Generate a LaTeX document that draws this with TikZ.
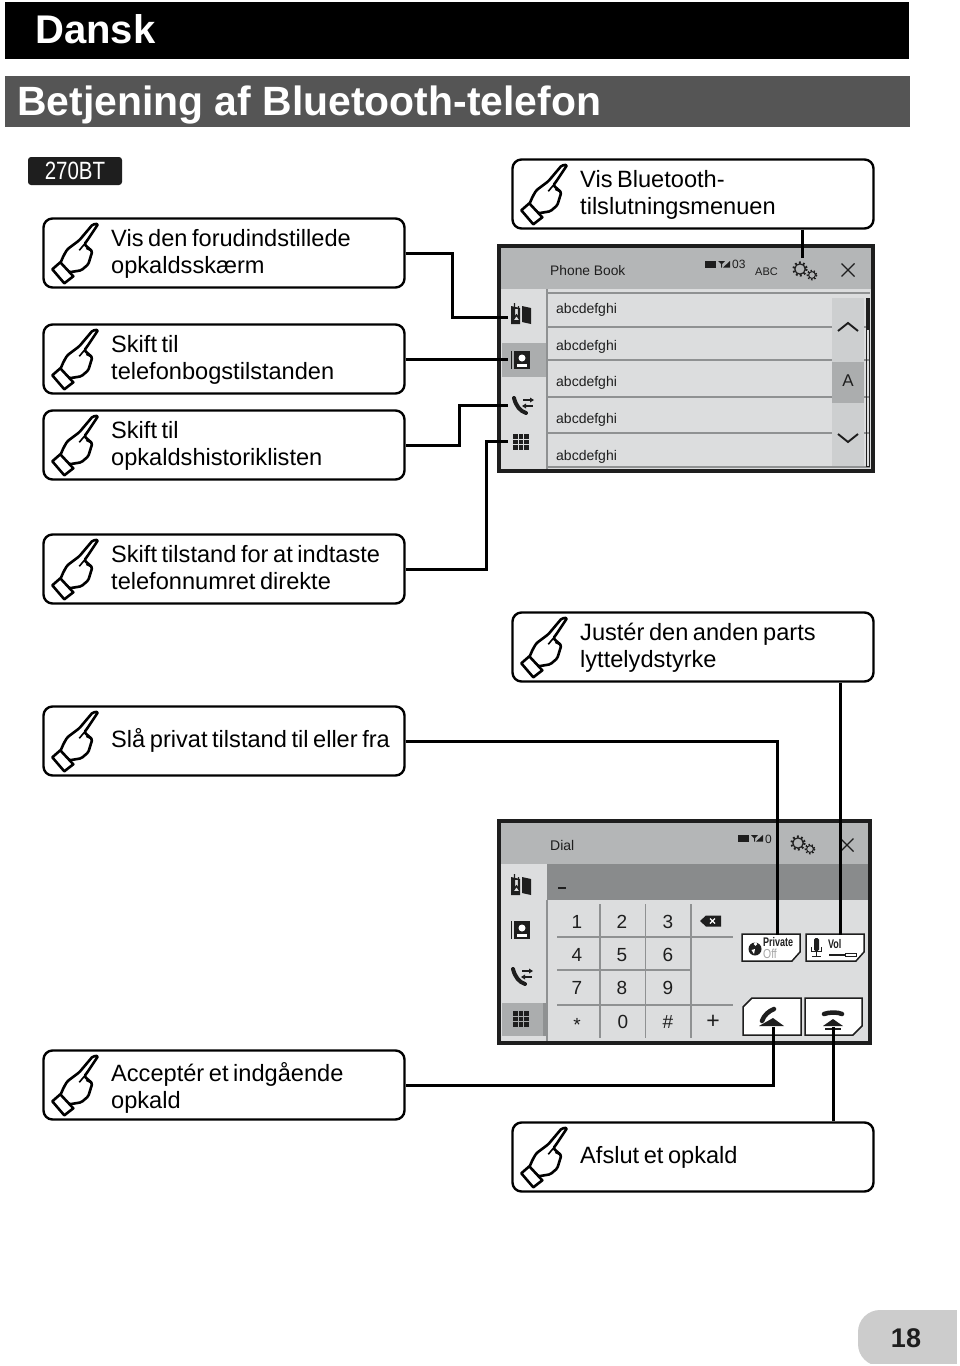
\documentclass[tikz,border=0pt]{standalone}
\usepackage{fontspec}
\setmainfont{Liberation Sans}
\newfontfamily\labelfont[WordSpace=0.7]{Liberation Sans}
\definecolor{hdrgray}{HTML}{B4B6B7}
\definecolor{panelgray}{HTML}{DCDDDE}
\definecolor{selgray}{HTML}{ABADAE}
\definecolor{linegray}{HTML}{8F9192}
\definecolor{scrollgray}{HTML}{CDCFD0}
\definecolor{bandgray}{HTML}{898B8C}
\definecolor{titlegray}{HTML}{555555}
\definecolor{inkdark}{HTML}{1E1E1E}
\tikzset{
  x=1pt,y=-1pt,
  cbox/.style={draw=black,line width=2.4pt,rounded corners=9pt,minimum width=361pt,minimum height=69pt,fill=white,inner sep=0pt},
  clabel/.style={anchor=north west,align=left,inner sep=0pt,font=\labelfont\fontsize{23.6}{27}\selectfont,text=black},
  wire/.style={draw=black,line width=3pt,line cap=butt,line join=miter},
  screen/.style={draw=inkdark,line width=3.5pt,fill=panelgray},
  scrtxt/.style={inner sep=0pt,text=inkdark},
  rowtxt/.style={inner sep=0pt,anchor=base west,text=inkdark,font=\fontsize{14}{14}\selectfont},
  keytxt/.style={inner sep=0pt,text=inkdark,font=\fontsize{19}{19}\selectfont},
  softbtn/.style={draw=inkdark,line width=1.5pt,fill=white},
  hand/.pic={
    \draw[fill=white,line width=2.6pt,line join=round,rounded corners=1.5pt]
      (56,6.5) -- (50.5,7) -- (37,23) -- (25,32) -- (21.5,38) -- (17.5,47) -- (27,55) -- (39,53) -- (46,47) -- (50,34) -- (42,27) -- (45,23) -- cycle;
    \draw[fill=white,line width=2.6pt,line join=round]
      (10,52) -- (18,45) -- (31,59) -- (22,66) -- cycle;
    \draw[line width=1.6pt] (42,27) -- (37,33) (50,34) -- (44,31);
  },
  bookicon/.pic={
    \fill[inkdark] (1,-9) -- (10,-7) -- (10,9) -- (1,7) -- cycle;
    \fill[inkdark] (-1,-7) -- (-10,-9) -- (-10,9) -- (-1,9) -- cycle;
    \fill[panelgray] (-7.5,-6) rectangle (-2.5,5);
    \draw[inkdark,line width=1.3pt] (-6.5,-12) -- (-6.5,3) -- (-4.5,0) -- (-2.5,3) -- (-2.5,-9);
  },
  contacticon/.pic={
    \fill[inkdark] (-6,-9) rectangle (10,9);
    \fill[inkdark] (-9.5,-9) rectangle (-8,9);
    \fill[white] (2,-2) circle (3.5);
    \fill[white] (-3,7) -- (-3,4) -- (7,4) -- (7,7) -- cycle;
  },
  phoneicon/.pic={
    \draw[inkdark,line width=4pt,line cap=round] (-9,-5) .. controls (-7,3) and (-3,8) .. (3,10);
    \draw[-,inkdark,line width=1.2pt] (0,-3) -- (9,-3) (1,3) -- (10,3);
    \fill[inkdark] (11,-3) -- (7,-5.5) -- (7,-.5) -- cycle;
    \fill[inkdark] (-1,3) -- (3,.5) -- (3,5.5) -- cycle;
  },
  gridicon/.pic={
    \foreach \gi in {-5.5,0,5.5} \foreach \gj in {-5.5,0,5.5}
      \fill[inkdark] (\gi-2.4,\gj-2.4) rectangle (\gi+2.4,\gj+2.4);
  },
  gearicon/.pic={
    \draw[inkdark,line width=2.2pt,dash pattern=on 1.8pt off 2.4pt] (0,0) circle (6.5);
    \draw[inkdark,line width=1.2pt,fill=hdrgray] (0,0) circle (5.2);
    \draw[inkdark,line width=1.8pt,dash pattern=on 1.4pt off 1.8pt] (12,6) circle (4.5);
    \draw[inkdark,line width=1pt,fill=hdrgray] (12,6) circle (3.4);
  },
  closeicon/.pic={\draw[inkdark,line width=1.2pt] (-6.5,-6.5) -- (6.5,6.5) (-6.5,6.5) -- (6.5,-6.5);},
  statusicon/.pic={
    \fill[inkdark] (0,0) rectangle (11,6.5);
    \fill[inkdark] (13,0) -- (20,0) -- (17,3) -- (17,6.5) -- (16,6.5) -- (16,3) -- cycle;
    \fill[inkdark] (18,6.5) -- (25,0) -- (25,6.5) -- cycle;
  }
}
\begin{document}
\begin{tikzpicture}
\useasboundingbox (0,0) rectangle (960,1366);
\fill[white] (0,0) rectangle (960,1366);

% headers
\fill[black] (5,2) rectangle (909,59);
\node[anchor=base west,inner sep=0pt,text=white,font=\fontsize{40}{40}\selectfont\bfseries] (lang) at (35,43) {Dansk};
\fill[titlegray] (5,76) rectangle (910,127);
\node[anchor=base west,inner sep=0pt,text=white,font=\fontsize{40.9}{41}\selectfont\bfseries] (title) at (17,115) {Betjening af Bluetooth-telefon};
\fill[inkdark,rounded corners=3pt] (28,157) rectangle (122,185);
\node[text=white,inner sep=0pt,font=\fontsize{25}{25}\selectfont,xscale=.82,transform shape] (model) at (75,171) {270BT};

% screen 1
\draw[screen] (499,246) rectangle (873,471);
\fill[hdrgray] (501,248) rectangle (871,289);
\fill[selgray] (502,343) rectangle (547,377);
\draw[linegray,line width=1.2pt] (547,289) -- (547,469);
\foreach \ry in {293,327,360,397,433,467} \draw[linegray,line width=1.5pt] (548,\ry) -- (870,\ry);
\fill[scrollgray] (832,298) rectangle (864,466);
\fill[selgray] (832,362) rectangle (864,403);
\draw[inkdark,line width=.8pt] (866,298) rectangle (869,466);
\fill[inkdark] (866,298) rectangle (869,330);
\node[scrtxt,anchor=base west,font=\fontsize{13.8}{14}\selectfont] (pbtitle) at (550,275) {Phone Book};
\pic at (705,261) {statusicon};
\node[scrtxt,anchor=base west,font=\fontsize{12}{12}\selectfont] (st1) at (732,268) {03};
\node[scrtxt,anchor=base west,font=\fontsize{11}{11}\selectfont] (abc) at (755,275) {ABC};
\coordinate (gearA) at (802,269);
\pic at (800,269) {gearicon};
\pic at (848,270) {closeicon};
\node[rowtxt] (r1) at (556,313) {abcdefghi};
\node[rowtxt] (r2) at (556,350) {abcdefghi};
\node[rowtxt] (r3) at (556,386) {abcdefghi};
\node[rowtxt] (r4) at (556,423) {abcdefghi};
\node[rowtxt] (r5) at (556,460) {abcdefghi};
\node[scrtxt,font=\fontsize{17}{17}\selectfont] (letA) at (848,381) {A};
\draw[inkdark,line width=1.9pt] (838,331) -- (848,323) -- (858,331);
\draw[inkdark,line width=1.9pt] (838,434) -- (848,442) -- (858,434);
\pic at (521,315) {bookicon};
\pic at (520,360) {contacticon};
\pic at (523,403) {phoneicon};
\pic at (521,442) {gridicon};
\coordinate (bookA) at (508,317);
\coordinate (contactA) at (508,358);
\coordinate (phoneA) at (508,405);
\coordinate (gridA) at (508,441);

% screen 2
\draw[screen] (499,821) rectangle (870,1043);
\fill[hdrgray] (501,823) rectangle (868,864);
\fill[bandgray] (547,864) rectangle (868,900);
\fill[selgray] (502,1003) rectangle (543,1036);
\fill[linegray] (543,1003) -- (547,1003) -- (547,1036) -- (543,1036) -- cycle;
\draw[linegray,line width=1.2pt] (547,900) -- (547,1041);
\node[scrtxt,anchor=base west,font=\fontsize{14}{14}\selectfont] (dial) at (550,850) {Dial};
\pic at (738,835) {statusicon};
\node[scrtxt,anchor=base west,font=\fontsize{12}{12}\selectfont] (st2) at (765,843) {0};
\pic at (798,843) {gearicon};
\pic at (847,845) {closeicon};
\draw[inkdark,line width=1.3pt] (558,888) -- (566,888);
\foreach \kx in {600,645.5,691} \draw[linegray,line width=1.2pt] (\kx,904) -- (\kx,1038);
\draw[linegray,line width=1.2pt] (557,937) -- (733,937) (557,970) -- (691,970) (557,1005) -- (733,1005);
\node[keytxt] (k1) at (577,922) {1};
\node[keytxt] (k2) at (622,922) {2};
\node[keytxt] (k3) at (668,922) {3};
\node[keytxt] (k4) at (577,955) {4};
\node[keytxt] (k5) at (622,955) {5};
\node[keytxt] (k6) at (668,955) {6};
\node[keytxt] (k7) at (577,988) {7};
\node[keytxt] (k8) at (622,988) {8};
\node[keytxt] (k9) at (668,988) {9};
\node[keytxt] (kstar) at (577,1025) {*};
\node[keytxt] (k0) at (623,1022) {0};
\node[keytxt] (khash) at (668,1022) {\#};
\node[keytxt,font=\fontsize{23}{23}\selectfont] (kplus) at (713,1022) {+};
\fill[inkdark] (700,921) -- (706,915.5) -- (721,915.5) -- (721,926.5) -- (706,926.5) -- cycle;
\draw[white,line width=1.2pt] (710,918.5) -- (715,923.5) (710,923.5) -- (715,918.5);
\pic at (521,886) {bookicon};
\pic at (520,930) {contacticon};
\pic at (522,974) {phoneicon};
\pic at (521,1019) {gridicon};
% soft buttons
\draw[softbtn] (742,934) -- (800,934) -- (800,952) -- (792,961) -- (742,961) -- cycle;
\draw[softbtn] (806,934) -- (864,934) -- (864,952) -- (856,961) -- (806,961) -- cycle;
\draw[softbtn] (752,998) -- (801,998) -- (801,1035) -- (743,1035) -- (743,1007) -- cycle;
\draw[softbtn] (805,998) -- (862,998) -- (862,1026) -- (853,1035) -- (805,1035) -- cycle;
\fill[inkdark] (755,949) circle (6.5);
\fill[white] (755.5,944) circle (1.8);
\fill[white] (751.5,950) -- (755,949) -- (754,954) -- cycle;
\node[scrtxt,anchor=base west,font=\fontsize{12.5}{12.5}\selectfont\bfseries,xscale=.72,transform shape] (priv) at (763,946) {Private};
\node[anchor=base west,inner sep=0pt,text=gray!70,font=\fontsize{13}{13}\selectfont,xscale=.8,transform shape] (off) at (763,958) {Off};
\fill[inkdark,rounded corners=1.5pt] (814,938) rectangle (819,951);
\draw[inkdark,line width=1pt] (811.5,947) -- (811.5,951) -- (821,951) -- (821,947) (816.5,951) -- (816.5,956) (812,956) -- (821,956);
\node[scrtxt,anchor=base west,font=\fontsize{12.5}{12.5}\selectfont\bfseries,xscale=.72,transform shape] (vollbl) at (828,948) {Vol};
\draw[inkdark,line width=1.3pt] (829,955) -- (845,955);
\draw[inkdark,line width=.8pt] (845,953.5) rectangle (856,956);
\draw[inkdark,line width=4.5pt,line cap=round] (774,1009) .. controls (769,1011) and (764,1015) .. (762,1021);
\fill[inkdark] (759,1026) -- (773,1018) -- (784,1026) -- cycle;
\draw[inkdark,line width=4.5pt,line cap=round] (824,1014) .. controls (829,1012) and (838,1012) .. (842,1014);
\fill[inkdark] (823,1026) -- (833,1019) -- (843,1026) -- cycle;
\fill[inkdark] (825,1028) rectangle (841,1030);
\coordinate (privA) at (777,935);
\coordinate (volA) at (840,935);
\coordinate (callA) at (773,1027);
\coordinate (endA) at (833,1027);

% callout boxes
\node[cbox] (box1) at (224,253) {};
\node[cbox] (box2) at (224,359) {};
\node[cbox] (box3) at (224,445) {};
\node[cbox] (box4) at (224,569) {};
\node[cbox] (box5) at (224,741) {};
\node[cbox] (box6) at (224,1085) {};
\node[cbox] (box7) at (693,194) {};
\node[cbox] (box8) at (693,647) {};
\node[cbox] (box9) at (693,1157) {};
\foreach \bn in {box1,box2,box3,box4,box5,box6,box7,box8,box9}
  \pic at (\bn.north west) {hand};
\node[clabel] (t1) at (111,229) {Vis den forudindstillede\\opkaldsskærm};
\node[clabel] (t2) at (111,335) {Skift til\\telefonbogstilstanden};
\node[clabel] (t3) at (111,421) {Skift til\\opkaldshistoriklisten};
\node[clabel] (t4) at (111,545) {Skift tilstand for at indtaste\\telefonnumret direkte};
\node[clabel] (t5) at (111,728) {Slå privat tilstand til eller fra};
\node[clabel] (t6) at (111,1062) {Acceptér et indgående\\opkald};
\node[clabel] (t7) at (580,170) {Vis Bluetooth-\\tilslutningsmenuen};
\node[clabel] (t8) at (580,623) {Justér den anden parts\\lyttelydstyrke};
\node[clabel] (t9) at (580,1146) {Afslut et opkald};

% connectors
\coordinate (jog1) at (452,285);
\coordinate (jog3) at (459,425);
\coordinate (jog4) at (486,505);
\draw[wire] (box1.east) -| (jog1) |- (bookA);
\draw[wire] (box2.east) -- (box2.east -| contactA);
\draw[wire] (box3.east) -| (jog3) |- (phoneA);
\draw[wire] (box4.east) -| (jog4) |- (gridA);
\draw[wire] (box5.east) -| (privA);
\draw[wire] (box6.east) -| (callA);
\draw[wire] (gearA |- box7.south) -- (802,258);
\draw[wire] (volA |- box8.south) -- (volA);
\draw[wire] (endA |- box9.north) -- (endA);

% page number tab
\fill[black!20,rounded corners=22pt] (858,1366) -- (858,1310) -- (980,1310) -- (980,1366) -- cycle;
\fill[white] (957,1300) rectangle (960,1366);
\fill[white] (850,1363.5) rectangle (960,1366);
\node[inner sep=0pt,text=inkdark,font=\fontsize{27}{27}\selectfont\bfseries] (pageno) at (906,1338) {18};
\end{tikzpicture}
\end{document}
